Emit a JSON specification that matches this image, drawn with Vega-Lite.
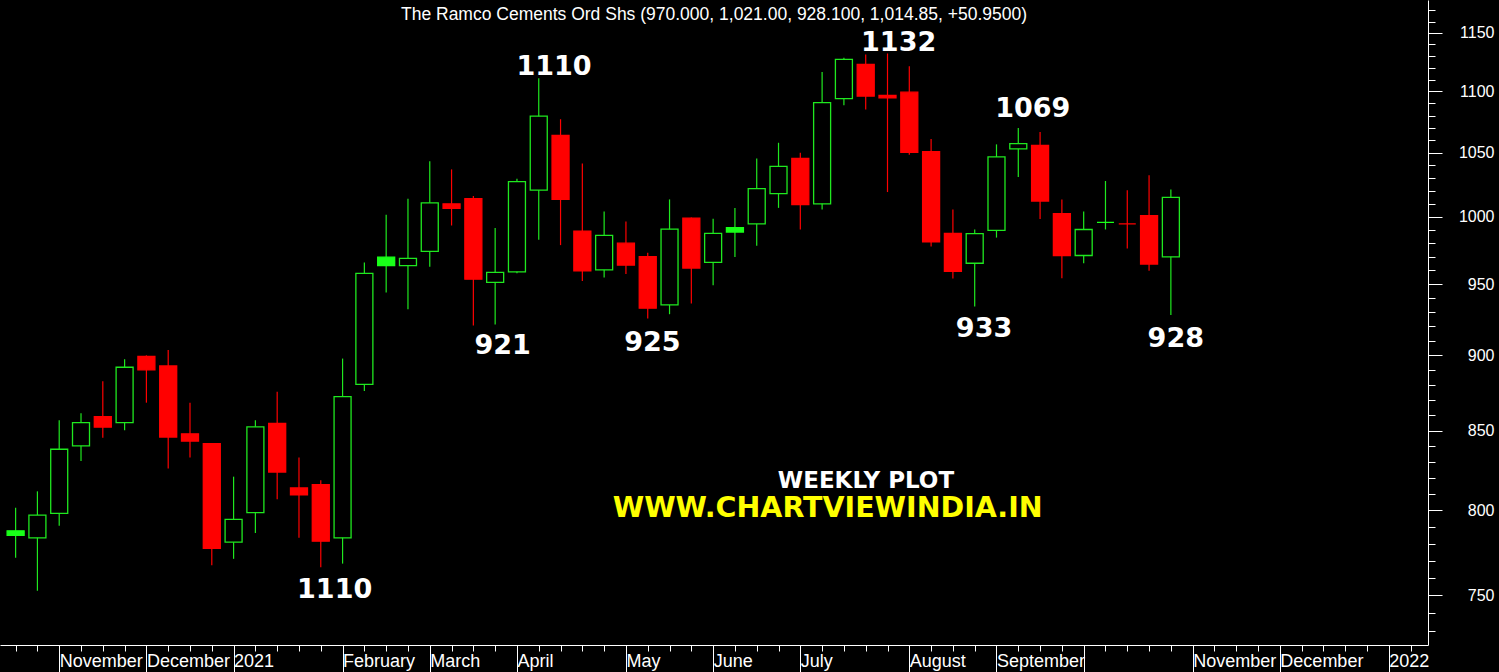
{
  "$schema": "https://vega.github.io/schema/vega-lite/v6.json",
  "width": 1428,
  "height": 645,
  "autosize": {"type": "none"},
  "padding": {"left": 0, "top": 0, "right": 71, "bottom": 27},
  "background": "#000000",
  "config": {"view": {"stroke": null}, "axis": {"grid": false, "labelOverlap": false}},
  "title": {
    "text": "The Ramco Cements Ord Shs (970.000, 1,021.00, 928.100, 1,014.85, +50.9500)",
    "color": "#ffffff",
    "font": "Liberation Sans",
    "fontSize": 17.5,
    "fontWeight": "normal",
    "anchor": "middle",
    "offset": 0,
    "baseline": "alphabetic",
    "dy": 37
  },
  "layer": [
    {
      "data": {
        "values": [
          {"date": "2020-10-23", "open": 787.6, "high": 801.5, "low": 771.6, "close": 784.9},
          {"date": "2020-10-30", "open": 783.4, "high": 811.6, "low": 752.5, "close": 797.1},
          {"date": "2020-11-06", "open": 798.1, "high": 856.6, "low": 790.6, "close": 838.0},
          {"date": "2020-11-13", "open": 840.1, "high": 861.2, "low": 830.6, "close": 855.1},
          {"date": "2020-11-20", "open": 859.0, "high": 882.4, "low": 845.4, "close": 852.2},
          {"date": "2020-11-27", "open": 855.1, "high": 897.4, "low": 850.2, "close": 891.9},
          {"date": "2020-12-04", "open": 899.3, "high": 900.0, "low": 868.2, "close": 890.1},
          {"date": "2020-12-11", "open": 892.8, "high": 903.6, "low": 825.8, "close": 845.8},
          {"date": "2020-12-18", "open": 847.9, "high": 868.2, "low": 832.8, "close": 843.2},
          {"date": "2020-12-25", "open": 841.6, "high": 842.0, "low": 767.2, "close": 777.1},
          {"date": "2021-01-01", "open": 780.8, "high": 820.7, "low": 771.0, "close": 794.5},
          {"date": "2021-01-08", "open": 798.6, "high": 856.6, "low": 786.3, "close": 852.4},
          {"date": "2021-01-15", "open": 854.6, "high": 875.5, "low": 806.8, "close": 823.6},
          {"date": "2021-01-22", "open": 813.7, "high": 832.8, "low": 783.4, "close": 809.5},
          {"date": "2021-01-29", "open": 815.8, "high": 818.5, "low": 766.1, "close": 781.4},
          {"date": "2021-02-05", "open": 783.4, "high": 897.8, "low": 768.2, "close": 872.2},
          {"date": "2021-02-12", "open": 880.3, "high": 965.9, "low": 875.9, "close": 957.9},
          {"date": "2021-02-19", "open": 969.8, "high": 1001.6, "low": 944.1, "close": 963.5},
          {"date": "2021-02-26", "open": 963.5, "high": 1013.8, "low": 932.1, "close": 968.9},
          {"date": "2021-03-05", "open": 974.0, "high": 1043.2, "low": 962.7, "close": 1010.7},
          {"date": "2021-03-12", "open": 1009.9, "high": 1036.7, "low": 993.4, "close": 1006.5},
          {"date": "2021-03-19", "open": 1013.8, "high": 1015.9, "low": 920.7, "close": 953.7},
          {"date": "2021-03-26", "open": 951.3, "high": 991.6, "low": 921.4, "close": 958.6},
          {"date": "2021-04-02", "open": 959.0, "high": 1029.4, "low": 958.0, "close": 1027.1},
          {"date": "2021-04-09", "open": 1020.5, "high": 1111.0, "low": 982.6, "close": 1079.5},
          {"date": "2021-04-16", "open": 1063.9, "high": 1077.0, "low": 978.7, "close": 1013.3},
          {"date": "2021-04-23", "open": 989.2, "high": 1041.4, "low": 952.4, "close": 959.7},
          {"date": "2021-04-30", "open": 960.4, "high": 1004.1, "low": 954.9, "close": 986.0},
          {"date": "2021-05-07", "open": 980.1, "high": 996.5, "low": 957.4, "close": 963.9},
          {"date": "2021-05-14", "open": 970.2, "high": 973.0, "low": 925.5, "close": 932.9},
          {"date": "2021-05-21", "open": 935.2, "high": 1013.3, "low": 928.6, "close": 990.6},
          {"date": "2021-05-28", "open": 999.0, "high": 999.5, "low": 936.2, "close": 961.8},
          {"date": "2021-06-04", "open": 966.0, "high": 998.5, "low": 949.3, "close": 987.5},
          {"date": "2021-06-11", "open": 991.7, "high": 1006.8, "low": 969.8, "close": 988.5},
          {"date": "2021-06-18", "open": 994.6, "high": 1045.3, "low": 978.2, "close": 1021.6},
          {"date": "2021-06-25", "open": 1017.7, "high": 1057.9, "low": 1006.8, "close": 1039.0},
          {"date": "2021-07-02", "open": 1045.3, "high": 1049.8, "low": 990.4, "close": 1009.4},
          {"date": "2021-07-09", "open": 1009.9, "high": 1116.4, "low": 1005.5, "close": 1090.7},
          {"date": "2021-07-16", "open": 1094.0, "high": 1128.6, "low": 1088.5, "close": 1127.1},
          {"date": "2021-07-23", "open": 1122.9, "high": 1131.4, "low": 1085.0, "close": 1096.1},
          {"date": "2021-07-30", "open": 1096.6, "high": 1132.2, "low": 1019.0, "close": 1094.6},
          {"date": "2021-08-06", "open": 1099.4, "high": 1121.3, "low": 1048.4, "close": 1050.2},
          {"date": "2021-08-13", "open": 1050.8, "high": 1061.0, "low": 977.7, "close": 981.1},
          {"date": "2021-08-20", "open": 987.5, "high": 1005.5, "low": 954.2, "close": 959.3},
          {"date": "2021-08-27", "open": 965.3, "high": 990.4, "low": 934.1, "close": 987.3},
          {"date": "2021-09-03", "open": 989.7, "high": 1056.6, "low": 984.3, "close": 1046.6},
          {"date": "2021-09-10", "open": 1053.0, "high": 1069.8, "low": 1030.7, "close": 1057.2},
          {"date": "2021-09-17", "open": 1055.7, "high": 1066.6, "low": 998.3, "close": 1012.0},
          {"date": "2021-09-24", "open": 1002.3, "high": 1013.3, "low": 954.4, "close": 971.0},
          {"date": "2021-10-01", "open": 971.0, "high": 1004.1, "low": 965.3, "close": 990.4},
          {"date": "2021-10-08", "open": 995.8, "high": 1027.6, "low": 990.4, "close": 995.8},
          {"date": "2021-10-15", "open": 994.6, "high": 1020.3, "low": 976.2, "close": 994.6},
          {"date": "2021-10-22", "open": 1000.8, "high": 1032.0, "low": 959.8, "close": 964.7},
          {"date": "2021-10-29", "open": 970.0, "high": 1021.0, "low": 928.1, "close": 1014.85}
        ]
      },
      "transform": [
        {"window": [{"op": "lag", "field": "close", "as": "prev"}], "sort": [{"field": "date"}]}
      ],
      "encoding": {
        "x": {
          "field": "date",
          "type": "temporal",
          "title": null,
          "scale": {"type": "utc", "domain": [1603116600000, 1642461400000]},
          "axis": {
            "title": null,
            "orient": "bottom",
            "tickCount": 200,
            "domainColor": "#ffffff",
            "domainWidth": 1,
            "tickColor": "#ffffff",
            "tickWidth": 1,
            "tickSize": {"condition": {"test": "utcdate(datum.value) <= 7", "value": 27}, "value": 6},
            "labelColor": "#ffffff",
            "labelFont": "Liberation Sans",
            "labelFontSize": 18,
            "labelAlign": "left",
            "labelBaseline": "middle",
            "labelDx": 2,
            "labelPadding": -11,
            "labelOverlap": false,
            "labelFlush": false,
            "labelBound": false,
            "labelExpr": "utcdate(datum.value) <= 7 ? (utcmonth(datum.value) == 0 ? utcFormat(datum.value, '%Y') : (utcmonth(datum.value) == 9 ? '' : utcFormat(datum.value, '%B'))) : ''",
            "values": [1603411200000, 1604016000000, 1604620800000, 1605225600000, 1605830400000, 1606435200000, 1607040000000, 1607644800000, 1608249600000, 1608854400000, 1609459200000, 1610064000000, 1610668800000, 1611273600000, 1611878400000, 1612483200000, 1613088000000, 1613692800000, 1614297600000, 1614902400000, 1615507200000, 1616112000000, 1616716800000, 1617321600000, 1617926400000, 1618531200000, 1619136000000, 1619740800000, 1620345600000, 1620950400000, 1621555200000, 1622160000000, 1622764800000, 1623369600000, 1623974400000, 1624579200000, 1625184000000, 1625788800000, 1626393600000, 1626998400000, 1627603200000, 1628208000000, 1628812800000, 1629417600000, 1630022400000, 1630627200000, 1631232000000, 1631836800000, 1632441600000, 1633046400000, 1633651200000, 1634256000000, 1634860800000, 1635465600000, 1636070400000, 1636675200000, 1637280000000, 1637884800000, 1638489600000, 1639094400000, 1639699200000, 1640304000000, 1640908800000, 1641513600000, 1642118400000]
          }
        }
      },
      "layer": [
        {
          "mark": {"type": "rule", "strokeWidth": 1.2},
          "encoding": {
            "y": {
              "field": "low",
              "type": "quantitative",
              "title": null,
              "scale": {"type": "log", "domain": [722.1, 1179.2], "nice": false, "zero": false},
              "axis": {
                "title": null,
                "orient": "right",
                "tickCount": 200,
                "domainColor": "#ffffff",
                "domainWidth": 1,
                "tickColor": "#ffffff",
                "tickWidth": 1,
                "tickSize": {"condition": {"test": "datum.value % 50 === 0", "value": 14}, "value": 7},
                "labelColor": "#ffffff",
                "labelFont": "Liberation Sans",
                "labelFontSize": 16,
                "labelAlign": "right",
                "labelBaseline": "middle",
                "labelPadding": 52,
                "labelOverlap": false,
                "labelFlush": false,
                "format": "d",
                "labelExpr": "datum.value % 50 === 0 ? datum.label : ''",
                "values": [730, 740, 750, 760, 770, 780, 790, 800, 810, 820, 830, 840, 850, 860, 870, 880, 890, 900, 910, 920, 930, 940, 950, 960, 970, 980, 990, 1000, 1010, 1020, 1030, 1040, 1050, 1060, 1070, 1080, 1090, 1100, 1110, 1120, 1130, 1140, 1150, 1160, 1170]
              }
            },
            "y2": {"field": "high"},
            "color": {
              "condition": [
                {"test": "datum.close > datum.open", "value": "#1fe81f"},
                {"test": "datum.prev != null && datum.close < datum.prev", "value": "#ff0000"}
              ],
              "value": "#1fe81f"
            }
          }
        },
        {
          "mark": {"type": "bar", "width": 17, "strokeWidth": 1.3},
          "encoding": {
            "y": {"field": "open", "type": "quantitative", "title": null},
            "y2": {"field": "close"},
            "fill": {
              "condition": [
                {"test": "datum.close > datum.open", "value": "#000000"},
                {"test": "datum.prev != null && datum.close < datum.prev", "value": "#ff0000"}
              ],
              "value": "#19ff19"
            },
            "stroke": {
              "condition": [
                {"test": "datum.close > datum.open", "value": "#1fe81f"},
                {"test": "datum.prev != null && datum.close < datum.prev", "value": "#ff0000"}
              ],
              "value": "#19ff19"
            }
          }
        }
      ]
    },
    {
      "data": {
        "values": [
          {"date": "2021-02-02T11:00:00Z", "price": 752.9, "label": "1110"},
          {"date": "2021-04-13T22:00:00Z", "price": 1121.0, "label": "1110"},
          {"date": "2021-03-28T10:00:00Z", "price": 906.4, "label": "921"},
          {"date": "2021-05-15T12:00:00Z", "price": 908.6, "label": "925"},
          {"date": "2021-08-02T14:00:00Z", "price": 1141.5, "label": "1132"},
          {"date": "2021-09-14T16:00:00Z", "price": 1085.2, "label": "1069"},
          {"date": "2021-08-30T00:00:00Z", "price": 917.9, "label": "933"},
          {"date": "2021-10-30T14:00:00Z", "price": 911.4, "label": "928"}
        ]
      },
      "mark": {"type": "text", "font": "DejaVu Sans", "fontWeight": "bold", "fontSize": 27, "color": "#ffffff", "align": "center", "baseline": "middle"},
      "encoding": {
        "x": {"field": "date", "type": "temporal", "title": null},
        "y": {"field": "price", "type": "quantitative", "title": null},
        "text": {"field": "label"}
      }
    },
    {
      "data": {"values": [{"date": "2021-07-23T02:00:00Z", "price": 818.0, "label": "WEEKLY PLOT"}]},
      "mark": {"type": "text", "font": "DejaVu Sans", "fontWeight": "bold", "fontSize": 23, "color": "#ffffff", "align": "center", "baseline": "middle"},
      "encoding": {
        "x": {"field": "date", "type": "temporal", "title": null},
        "y": {"field": "price", "type": "quantitative", "title": null},
        "text": {"field": "label"}
      }
    },
    {
      "data": {"values": [{"date": "2021-07-10T19:00:00Z", "price": 801.4, "label": "WWW.CHARTVIEWINDIA.IN"}]},
      "mark": {"type": "text", "font": "DejaVu Sans", "fontWeight": "bold", "fontSize": 28.5, "color": "#ffff00", "align": "center", "baseline": "middle"},
      "encoding": {
        "x": {"field": "date", "type": "temporal", "title": null},
        "y": {"field": "price", "type": "quantitative", "title": null},
        "text": {"field": "label"}
      }
    }
  ]
}
